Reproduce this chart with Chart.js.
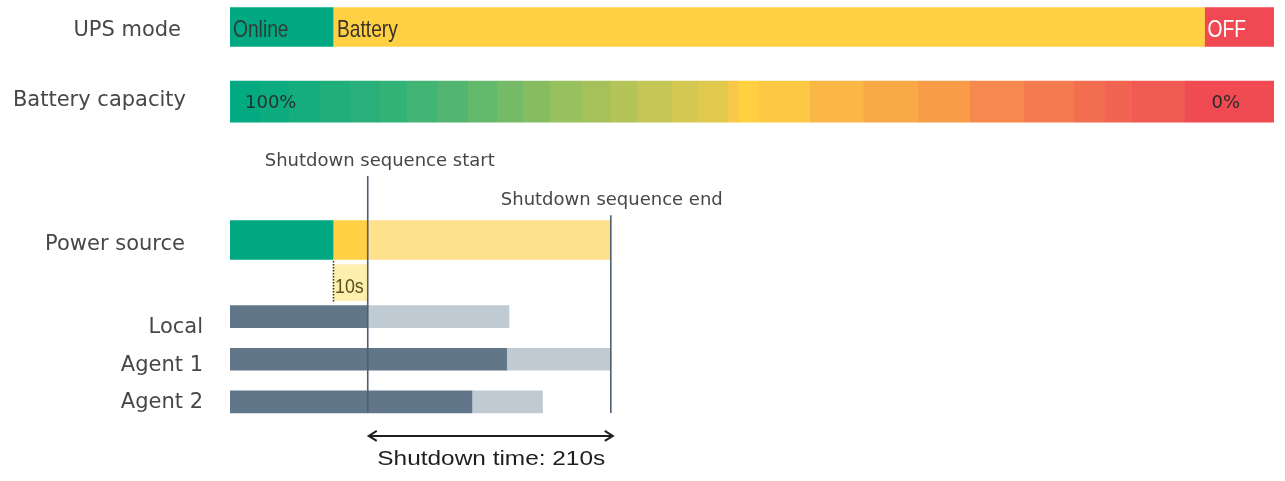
<!DOCTYPE html>
<html>
<head>
<meta charset="utf-8">
<title>UPS shutdown sequence</title>
<script src="https://cdn.jsdelivr.net/npm/chart.js@4.4.1/dist/chart.umd.min.js"></script>
<style>
  html, body { margin: 0; padding: 0; background: #fff; }
  #wrap { width: 1285px; height: 481px; }
</style>
</head>
<body>
<div id="wrap"><canvas id="chart"></canvas></div>
<script>
// time axis in seconds (drawn scale: shutdown sequence = 210s)
const timeMax = 902;
const seqStart = 119;
const seqEnd = 329;
const shutdownTime = 210;

// UPS mode
const upsStates = ['Online', 'Battery', 'OFF'];
const upsStart = [0, 89, 842];
const upsEnd = [89, 842, 902];

// battery capacity
const capacityLabels = ['100%', '0%'];

// power source: online, battery delay, shutdown sequence
const powerStart = [0, 89, 119];
const powerEnd = [89, 119, 329];
const delayLabel = '10s';

// hosts
const hosts = ['Local', 'Agent 1', 'Agent 2'];
const runEnd = [119, 239, 209];
const shutdownEnd = [241, 329, 270];

const rowLabels = ['UPS mode', 'Battery capacity', 'Power source', 'Local', 'Agent 1', 'Agent 2'];

// layout: vertical lane of each row (linear y scale)
const lane = { ups: 0, capacity: 1.75, power: 5, delay: 6, hosts: [6.8, 7.8, 8.8] };
const rowLanes = [lane.ups, lane.capacity, lane.power, ...lane.hosts];
const labelGap = [49, 44, 45, 27, 27, 27];
const labelBase = [9, 4.5, 9.5, 16, 11.5, 6];

// colours
const GREEN = '#01a982', YELLOW = '#ffd044', RED = '#f04953';
const PALE = '#fee18d', PALER = '#fdefad';
const DARK = '#617689', LIGHT = '#c0cad3', LINE = '#4e5f70';
const TEXT = '#474747';

// stepped green -> yellow -> red fill of the capacity bar
const capStops = [0, .029, .057, .086, .115, .144, .170, .199, .228, .256, .281, .307, .337, .364, .391,
  .424, .449, .477, .487, .506, .556, .607, .659, .709, .761, .809, .838, .864, .915, 1];
const capColors = ['#03a981', '#0cab80', '#15ad7e', '#1fae7c', '#29b07a', '#33b277', '#42b474', '#52b670',
  '#64b86c', '#75ba67', '#86bd63', '#97c05e', '#a5c25a', '#b3c458', '#c4c655', '#d4c852', '#e1c94e',
  '#f9c84a', '#ffd141', '#fdc844', '#fbb746', '#faa947', '#f89c4a', '#f6894d', '#f47a4f', '#f36e50',
  '#f26452', '#f15a52', '#f04a53'];

function capacityFill(context) {
  const area = context.chart.chartArea;
  if (!area) return GREEN;
  const g = context.chart.ctx.createLinearGradient(area.left, 0, area.right, 0);
  capColors.forEach((c, i) => {
    g.addColorStop(capStops[i], c);
    g.addColorStop(Math.max(capStops[i], capStops[i + 1] - 0.0005), c);
  });
  return g;
}

const seg = (s, e, y) => ({ x: [s, e], y });

const datasets = [
  { label: 'Online', backgroundColor: GREEN, barThickness: 39,
    data: [seg(upsStart[0], upsEnd[0], lane.ups), seg(powerStart[0], powerEnd[0], lane.power)] },
  { label: 'Battery', backgroundColor: YELLOW, barThickness: 39,
    data: [seg(upsStart[1], upsEnd[1], lane.ups), seg(powerStart[1], powerEnd[1], lane.power)] },
  { label: 'OFF', backgroundColor: RED, barThickness: 39,
    data: [seg(upsStart[2], upsEnd[2], lane.ups)] },
  { label: 'Battery capacity', backgroundColor: capacityFill, barThickness: 41,
    data: [seg(0, timeMax, lane.capacity)] },
  { label: 'Shutdown sequence', backgroundColor: PALE, barThickness: 39,
    data: [seg(powerStart[2], powerEnd[2], lane.power)] },
  { label: 'Delay', backgroundColor: PALER, barThickness: 36,
    data: [seg(powerStart[1], powerEnd[1], lane.delay)] },
  { label: 'Running', backgroundColor: DARK, barThickness: 22,
    data: hosts.map((h, i) => seg(0, runEnd[i], lane.hosts[i])) },
  { label: 'Shutting down', backgroundColor: LIGHT, barThickness: 22,
    data: hosts.map((h, i) => seg(runEnd[i], shutdownEnd[i], lane.hosts[i])) }
].map(d => ({ ...d, grouped: false, borderWidth: 0 }));

function text(ctx, str, x, y, font, color, align, sx) {
  ctx.save();
  ctx.font = font;
  ctx.fillStyle = color;
  ctx.textBaseline = 'alphabetic';
  ctx.textAlign = align || 'left';
  ctx.translate(x, y);
  ctx.scale(sx || 1, 1);
  ctx.fillText(str, 0, 0);
  ctx.restore();
}

const overlays = {
  id: 'overlays',
  afterDatasetsDraw(chart) {
    const { ctx, scales: { x, y } } = chart;
    const left = chart.chartArea.left;
    const NARROW = '24px "Liberation Sans", Arial, sans-serif';
    const LABEL = '21px "DejaVu Sans", sans-serif';

    // row labels
    rowLabels.forEach((t, i) => {
      text(ctx, t, left - labelGap[i], y.getPixelForValue(rowLanes[i]) + labelBase[i], LABEL, TEXT, 'right');
    });

    // labels inside the bars
    const upsY = y.getPixelForValue(lane.ups) + 9.5;
    text(ctx, upsStates[0], x.getPixelForValue(upsStart[0]) + 3, upsY, NARROW, '#2f3b37', 'left', 0.8);
    text(ctx, upsStates[1], x.getPixelForValue(upsStart[1]) + 4, upsY, NARROW, '#3b3426', 'left', 0.8);
    text(ctx, upsStates[2], x.getPixelForValue(upsStart[2]) + 3, upsY, NARROW, '#ffffff', 'left', 0.8);
    const capY = y.getPixelForValue(lane.capacity) + 6.5;
    text(ctx, capacityLabels[0], x.getPixelForValue(0) + 15, capY, '18px "DejaVu Sans", sans-serif', '#26312c', 'left');
    text(ctx, capacityLabels[1], x.getPixelForValue(timeMax) - 34, capY, '18px "DejaVu Sans", sans-serif', '#2a2a2a', 'right');
    text(ctx, delayLabel, x.getPixelForValue(powerStart[1]) + 2, y.getPixelForValue(lane.delay) + 10,
      '21px "Liberation Sans", Arial, sans-serif', '#5b5121', 'left', 0.85);

    // dotted marker for the 10s delay
    const dx = Math.round(x.getPixelForValue(powerStart[1])) + 0.5;
    ctx.save();
    ctx.strokeStyle = '#333';
    ctx.lineWidth = 1.5;
    ctx.setLineDash([1.5, 1.5]);
    ctx.beginPath();
    ctx.moveTo(dx, y.getPixelForValue(lane.power) + 21);
    ctx.lineTo(dx, y.getPixelForValue(lane.delay) + 19);
    ctx.stroke();
    ctx.restore();

    // shutdown sequence start / end lines
    const bottom = y.getPixelForValue(lane.hosts[2]) + 11;
    const xs = x.getPixelForValue(seqStart), xe = x.getPixelForValue(seqEnd);
    ctx.save();
    ctx.strokeStyle = LINE;
    ctx.lineWidth = 1.6;
    ctx.beginPath();
    ctx.moveTo(xs, y.getPixelForValue(3.5));
    ctx.lineTo(xs, bottom);
    ctx.moveTo(xe, y.getPixelForValue(4.42));
    ctx.lineTo(xe, bottom);
    ctx.stroke();
    ctx.restore();

    const NOTE = '18px "DejaVu Sans", sans-serif';
    text(ctx, 'Shutdown sequence start', xs + 12, y.getPixelForValue(3.1) + 7, NOTE, TEXT, 'center');
    text(ctx, 'Shutdown sequence end', xe + 1, y.getPixelForValue(4.02) + 7, NOTE, TEXT, 'center');

    // double arrow with shutdown time
    const ay = y.getPixelForValue(9.6);
    ctx.save();
    ctx.strokeStyle = '#1e1e1e';
    ctx.lineWidth = 2;
    ctx.beginPath();
    ctx.moveTo(xs + 1, ay);
    ctx.lineTo(xe + 2, ay);
    ctx.moveTo(xs + 9, ay - 5); ctx.lineTo(xs + 1, ay); ctx.lineTo(xs + 9, ay + 5);
    ctx.moveTo(xe - 6, ay - 5); ctx.lineTo(xe + 2, ay); ctx.lineTo(xe - 6, ay + 5);
    ctx.stroke();
    ctx.restore();
    text(ctx, 'Shutdown time: ' + shutdownTime + 's', (xs + xe) / 2 + 2, ay + 29,
      '20px "Liberation Sans", Arial, sans-serif', '#1e1e1e', 'center', 1.22);
  }
};

new Chart(document.getElementById('chart'), {
  type: 'bar',
  data: { datasets },
  options: {
    indexAxis: 'y',
    responsive: true,
    maintainAspectRatio: false,
    animation: false,
    layout: { padding: { left: 230, right: 11, top: 0, bottom: 0 } },
    scales: {
      x: { type: 'linear', min: 0, max: timeMax, display: false },
      y: { type: 'linear', reverse: true, offset: false, min: -0.634, max: 10.657, display: false }
    },
    plugins: {
      legend: { display: false },
      tooltip: { enabled: false }
    }
  },
  plugins: [overlays]
});
</script>
</body>
</html>
